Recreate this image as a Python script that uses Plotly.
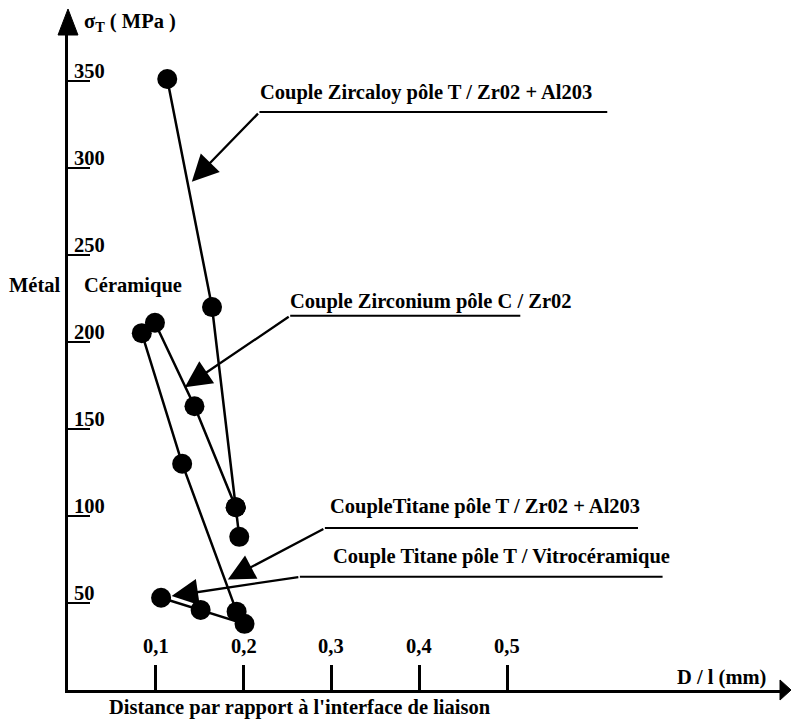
import plotly.graph_objects as go

# ---- data ----
zircaloy_x = [0.113, 0.164, 0.191, 0.195]
zircaloy_y = [351, 220, 105, 88]

zirconium_x = [0.099, 0.144, 0.191]
zirconium_y = [211, 163, 105]

titane_zr_x = [0.084, 0.130, 0.192]
titane_zr_y = [205, 130, 45]

titane_vitro_x = [0.106, 0.151, 0.201]
titane_vitro_y = [53, 46, 38]

x_ticks = [0.1, 0.2, 0.3, 0.4, 0.5]
x_tick_labels = ["0,1", "0,2", "0,3", "0,4", "0,5"]
y_ticks = [50, 100, 150, 200, 250, 300, 350]
y_tick_labels = ["50", "100", "150", "200", "250", "300", "350"]

# callout labels: text, arrow tip (x, y), leader start (x, y), underline end x, label centre (x, y)
callouts = [
    ("Couple Zircaloy pôle T / Zr02 + Al203", (0.141, 292), (0.218, 332), 0.614, (0.4075, 343)),
    ("Couple Zirconium pôle C / Zr02", (0.133, 174), (0.253, 215), 0.515, (0.413, 223)),
    ("CoupleTitane pôle T / Zr02 + Al203", (0.182, 63.5), (0.2925, 93), 0.649, (0.475, 105.5)),
    ("Couple Titane pôle T / Vitrocéramique", (0.118, 54), (0.264, 65), 0.677, (0.494, 76.5)),
]

FONT = "Liberation Serif"
FS = 20.5

fig = go.Figure()

for xs, ys in [(zircaloy_x, zircaloy_y), (zirconium_x, zirconium_y),
               (titane_zr_x, titane_zr_y), (titane_vitro_x, titane_vitro_y)]:
    fig.add_trace(go.Scatter(
        x=xs, y=ys, mode="lines+markers",
        line=dict(color="black", width=2.5),
        marker=dict(color="black", size=20),
        showlegend=False, cliponaxis=False,
    ))

annotations = []
shapes = []

for text, tip, tail, uend, centre in callouts:
    annotations.append(dict(
        x=tip[0], y=tip[1], ax=tail[0], ay=tail[1], xref="x", yref="y",
        axref="x", ayref="y", text="", showarrow=True, arrowhead=2,
        arrowsize=2.3, arrowwidth=2.3, arrowcolor="black", standoff=0,
    ))
    shapes.append(dict(type="line", xref="x", yref="y", x0=tail[0], y0=tail[1],
                       x1=uend, y1=tail[1], line=dict(color="black", width=2)))
    annotations.append(dict(
        x=centre[0], y=centre[1], xref="x", yref="y", text="<b>" + text + "</b>",
        showarrow=False, font=dict(family=FONT, size=FS, color="black"),
        xanchor="center", yanchor="middle",
    ))

# tick labels as text
for v, lab in zip(x_ticks, x_tick_labels):
    annotations.append(dict(x=v, y=0, xref="x", yref="y", text="<b>" + lab + "</b>",
                            showarrow=False, yshift=44, xanchor="center", yanchor="middle",
                            font=dict(family=FONT, size=FS, color="black")))
for v, lab in zip(y_ticks, y_tick_labels):
    annotations.append(dict(x=0, y=v, xref="x", yref="y", text="<b>" + lab + "</b>",
                            showarrow=False, xshift=4, yshift=10, xanchor="left", yanchor="middle",
                            font=dict(family=FONT, size=FS, color="black")))

# axis titles and side labels
annotations += [
    dict(x=0.0197, y=1.0185, xref="paper", yref="paper", xanchor="left", yanchor="middle",
         text="<b>σ<sub>T</sub> ( MPa )</b>", showarrow=False,
         font=dict(family=FONT, size=FS, color="black")),
    dict(x=-0.047, y=0.618, xref="paper", yref="paper", xanchor="center", yanchor="middle",
         text="<b>Métal</b>", showarrow=False, font=dict(family=FONT, size=FS, color="black")),
    dict(x=0.0197, y=0.618, xref="paper", yref="paper", xanchor="left", yanchor="middle",
         text="<b>Céramique</b>", showarrow=False, font=dict(family=FONT, size=FS, color="black")),
    dict(x=0.9185, y=0.0198, xref="paper", yref="paper", xanchor="center", yanchor="middle",
         text="<b>D / l (mm)</b>", showarrow=False, font=dict(family=FONT, size=FS, color="black")),
    dict(x=0.3258, y=-0.026, xref="paper", yref="paper", xanchor="center", yanchor="middle",
         text="<b>Distance par rapport à l'interface de liaison</b>", showarrow=False,
         font=dict(family=FONT, size=FS, color="black")),
]

# axis arrowheads (paper coordinates; plot area spans 712 x 655 px)
shapes += [
    dict(type="path", xref="paper", yref="paper",
         path="M -0.0140,1.0 L 0.0140,1.0 L 0,1.0397 Z",
         fillcolor="black", line=dict(color="black", width=1)),
    dict(type="path", xref="paper", yref="paper",
         path="M 1.0,-0.0153 L 1.0,0.0153 L 1.0155,0 Z",
         fillcolor="black", line=dict(color="black", width=1)),
]

fig.update_layout(
    width=791, height=722,
    margin=dict(l=68, r=11, t=35, b=32),
    paper_bgcolor="white", plot_bgcolor="white",
    annotations=annotations, shapes=shapes,
    xaxis=dict(range=[0, 0.8107], showgrid=False, zeroline=False, showline=True,
               linecolor="black", linewidth=3, ticks="inside", ticklen=25, tickwidth=2.5,
               tickcolor="black", tickvals=x_ticks, showticklabels=False),
    yaxis=dict(range=[0, 376.3], showgrid=False, zeroline=False, showline=True,
               linecolor="black", linewidth=3, ticks="inside", ticklen=22, tickwidth=2,
               tickcolor="black", tickvals=y_ticks, showticklabels=False),
)

fig.write_html("out.html", config={"displayModeBar": False},
               post_script="document.body.style.margin='0px';")
